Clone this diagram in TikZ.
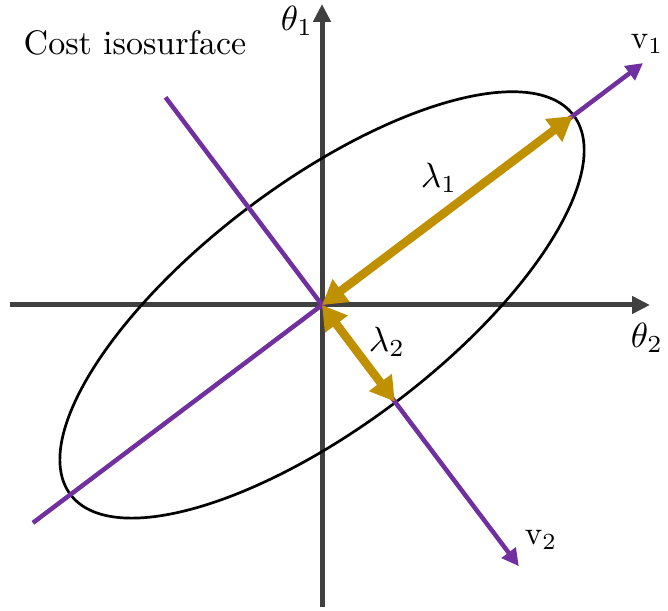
\documentclass[tikz,border=0pt]{standalone}
\usepackage{fontspec}
\usetikzlibrary{arrows.meta,calc}
\definecolor{axgray}{HTML}{404040}
\definecolor{vpurple}{HTML}{7030A0}
\definecolor{lgold}{HTML}{BF9000}
\begin{document}
\begin{tikzpicture}[x=1pt,y=1pt,
  axis/.style={draw=axgray,line width=5pt,-{Triangle[width=17pt,length=18pt]}},
  eigline/.style={draw=vpurple,line width=4.5pt,-{Triangle[width=17pt,length=17pt]}},
  lam/.style={draw=lgold,line width=8.5pt,{Triangle[width=27pt,length=24pt]}-{Triangle[width=27pt,length=24pt]}},
  lbl/.style={inner sep=0pt,scale=3.3},
  mlbl/.style={inner sep=0pt,scale=3.5}]
\useasboundingbox (0,0) rectangle (668,610);
\coordinate (O) at (322,305);
\coordinate (xs) at (10,305);
\coordinate (xe) at (650,305);
\coordinate (ys) at (322,3);
\coordinate (ye) at (322,606);
\coordinate (v1s) at ($(O)+(217:362)$);
\coordinate (v1e) at ($(O)+(37:402)$);
\coordinate (v2s) at ($(O)+(127:260)$);
\coordinate (v2e) at ($(O)+(-53:327)$);
\coordinate (A1) at ($(O)+(37:314)$);
\coordinate (A2) at ($(O)+(-53:121)$);
% axes
\draw[axis] (xs) -- (xe);
\draw[axis] (ys) -- (ye);
% ellipse
\draw[black,line width=2.7pt,rotate around={37:(O)}] (O) ellipse [x radius=315, y radius=122];
% eigen lines
\draw[eigline] (v1s) -- (v1e);
\draw[eigline] (v2s) -- (v2e);
% lambda arrows
\draw[lam] (A1) -- (O);
\draw[lam] (O) -- (A2);
% labels
\node[inner sep=0pt,scale=3.4] (cost) at (135,567) {Cost isosurface};
\node[mlbl] (t1) at (297,589) {$\theta_1$};
\node[mlbl] (t2) at (647,272) {$\theta_2$};
\node[mlbl] (l1) at (439,432) {$\lambda_1$};
\node[mlbl] (l2) at (387,268) {$\lambda_2$};
\node[lbl] (v1) at (647,566) {v$_1$};
\node[lbl] (v2) at (541,70) {v$_2$};
\end{tikzpicture}
\end{document}
